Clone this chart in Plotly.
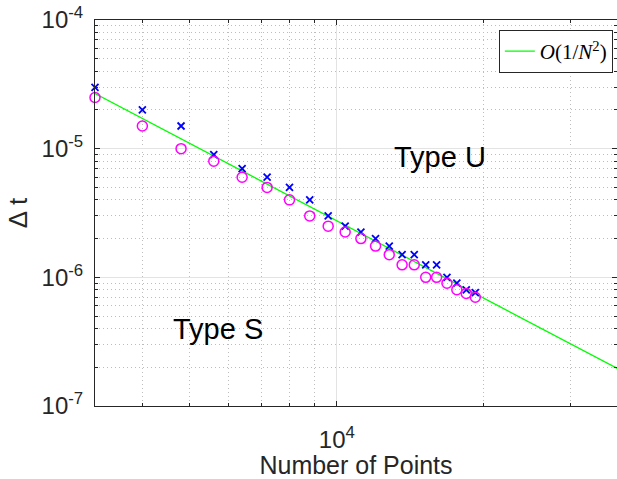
import plotly.graph_objects as go
import numpy as np

# ---- data ----
num_points = [3200, 4000, 4800, 5600, 6400, 7200, 8000, 8800, 9600, 10400, 11200,
              12000, 12800, 13600, 14400, 15200, 16000, 16800, 17600, 18400, 19200]
dt_type_u = [3.0e-5, 2.0e-5, 1.5e-5, 9.0e-6, 7.0e-6, 6.0e-6, 5.0e-6, 4.0e-6, 3.0e-6, 2.5e-6, 2.25e-6,
             2.0e-6, 1.75e-6, 1.5e-6, 1.5e-6, 1.25e-6, 1.25e-6, 1.0e-6, 9.0e-7, 8.0e-7, 7.6e-7]
dt_type_s = [2.5e-5, 1.5e-5, 1.0e-5, 8.0e-6, 6.0e-6, 5.0e-6, 4.0e-6, 3.0e-6, 2.5e-6, 2.25e-6, 2.0e-6,
             1.75e-6, 1.5e-6, 1.25e-6, 1.25e-6, 1.0e-6, 1.0e-6, 9.0e-7, 8.0e-7, 7.5e-7, 7.0e-7]
ref_const = 275.0
ref_n = [3200, 40000]
ref_dt = [ref_const / n ** 2 for n in ref_n]

x_range = [3200, 37430]
y_range = [1e-7, 1e-4]

FONT = "Liberation Sans, Arial, sans-serif"
AX = "#262626"

fig = go.Figure()
fig.add_trace(go.Scatter(x=ref_n, y=ref_dt, mode="lines",
                         line=dict(color="#00ff00", width=1.3),
                         name="<i>O</i>(1/<i>N</i><sup>2</sup>)", showlegend=True))
fig.add_trace(go.Scatter(x=num_points, y=dt_type_u, mode="markers", showlegend=False,
                         marker=dict(symbol="x-thin", size=7, color="#0000ff",
                                     line=dict(color="#0000ff", width=1.8)),
                         cliponaxis=False))
fig.add_trace(go.Scatter(x=num_points, y=dt_type_s, mode="markers", showlegend=False,
                         marker=dict(symbol="circle-open", size=10, color="#ff00ff",
                                     line=dict(color="#ff00ff", width=1.5)),
                         cliponaxis=False))

x_minor = [m * 10 ** e for e in (3, 4) for m in range(2, 10)]
y_minor = [m * 10.0 ** e for e in (-7, -6, -5) for m in range(2, 10)]

MINOR_GRID = dict(showgrid=True, gridcolor="#bdbdbd", griddash="1px,3px", gridwidth=1)

fig.update_xaxes(type="log", range=[np.log10(x_range[0]), np.log10(x_range[1])],
                 tickmode="array", tickvals=[1e4], ticktext=["10<sup>4</sup>"],
                 ticks="inside", ticklen=5, tickcolor=AX, tickwidth=1,
                 showline=True, linecolor=AX, linewidth=1, mirror="ticks",
                 showgrid=True, gridcolor="#e3e3e3", gridwidth=1,
                 zeroline=False, ticklabelstandoff=12,
                 minor=dict(tickmode="array", tickvals=x_minor, ticks="inside", ticklen=3,
                            tickcolor=AX, **MINOR_GRID),
                 tickfont=dict(family=FONT, size=24, color="#262626"),
                 title=dict(text="Number of Points", font=dict(family=FONT, size=25, color="#262626"),
                            standoff=4))
fig.update_yaxes(type="log", range=[np.log10(y_range[0]), np.log10(y_range[1])],
                 tickmode="array", tickvals=[1e-7, 1e-6, 1e-5, 1e-4],
                 ticktext=["10<sup>-7</sup>", "10<sup>-6</sup>", "10<sup>-5</sup>", "10<sup>-4</sup>"],
                 ticks="inside", ticklen=5, tickcolor=AX, tickwidth=1,
                 showline=True, linecolor=AX, linewidth=1, mirror="ticks",
                 showgrid=True, gridcolor="#e3e3e3", gridwidth=1,
                 zeroline=False, ticklabelstandoff=6,
                 minor=dict(tickmode="array", tickvals=y_minor, ticks="inside", ticklen=3,
                            tickcolor=AX, **MINOR_GRID),
                 tickfont=dict(family=FONT, size=24, color="#262626"),
                 title=dict(text="Δ t", font=dict(family=FONT, size=26, color="#262626"),
                            standoff=6))

fig.add_annotation(text="Type U", x=0.661, y=0.645, xref="paper", yref="paper",
                   xanchor="center", yanchor="middle",
                   showarrow=False, font=dict(family=FONT, size=29, color="black"))
fig.add_annotation(text="Type S", x=0.2356, y=0.199, xref="paper", yref="paper",
                   xanchor="center", yanchor="middle",
                   showarrow=False, font=dict(family=FONT, size=29, color="black"))

fig.update_layout(
    width=617, height=479,
    margin=dict(l=95, r=0, t=20, b=73, pad=0),
    paper_bgcolor="white", plot_bgcolor="white",
    legend=dict(x=0.992, y=0.974, xanchor="right", yanchor="top",
                bgcolor="white", bordercolor=AX, borderwidth=1,
                font=dict(family="Liberation Serif, DejaVu Serif, serif", size=21, color="black"),
                itemwidth=30, tracegroupgap=0),
    showlegend=True,
)

fig.write_html("out.html")
